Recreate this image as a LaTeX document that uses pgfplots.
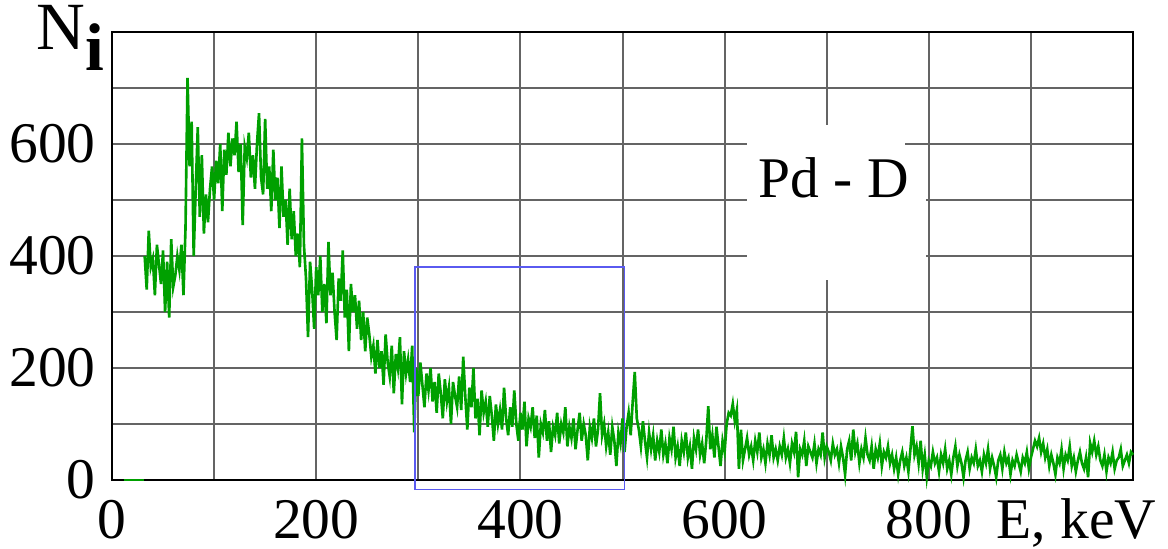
\documentclass[border=0pt]{standalone}
\usepackage{pgfplots}
\pgfplotsset{compat=1.18}
\usepackage{fontspec}
\setmainfont{Liberation Serif}
\definecolor{pdgreen}{RGB}{0,160,0}
\definecolor{gridgray}{RGB}{100,100,100}
\definecolor{boxblue}{RGB}{90,90,240}
\begin{document}
\begin{tikzpicture}[x=1pt,y=1pt]
\useasboundingbox (-44.8pt,-27.2pt) rectangle (422.4pt,192pt);
\begin{axis}[
  at={(0,0)}, anchor=south west,
  scale only axis, width=408.4pt, height=179.2pt,
  xmin=0, xmax=1000, ymin=0, ymax=800,
  xtick={0,200,400,600,800}, minor xtick={100,300,500,700,900},
  ytick={0,200,400,600}, minor ytick={100,300,500,700},
  grid=both,
  major grid style={color=gridgray, line width=0.8pt},
  minor grid style={color=gridgray, line width=0.8pt},
  major tick length=0pt, minor tick length=0pt,
  axis line style={black, line width=0.9pt},
  tick label style={font=\fontsize{23}{27}\selectfont},
  x tick label style={yshift=-4.5pt},
  y tick label style={xshift=-3pt},
  /pgf/number format/assume math mode=true,
  clip=false,
]
\fill[white] (axis cs:622,357) rectangle (axis cs:777,634);
\fill[white] (axis cs:622,357) rectangle (axis cs:797,570);
\addplot[color=pdgreen, line width=0.9pt] coordinates {(12,0) (31,0)};
\addplot[color=pdgreen, line width=1.05pt] table {
x y
32 400
34 340
36 445
38 380
40 395
42 330
44 420
46 385
48 350
50 410
52 300
54 390
56 290
58 430
60 345
62 365
64 400
66 375
68 420
70 330
72 450
74 718
76 560
78 640
80 400
82 520
84 630
86 470
88 580
90 440
92 510
94 460
96 520
98 560
100 500
102 570
104 530
106 600
108 480
110 590
112 545
114 620
116 560
118 610
120 580
122 640
124 550
126 600
128 455
130 595
132 575
134 620
136 540
138 580
140 520
142 600
144 655
146 540
148 510
150 645
152 520
154 560
156 480
158 590
160 500
162 540
164 450
166 560
168 470
170 500
172 420
174 520
176 430
178 480
180 400
182 440
184 380
186 610
188 420
190 360
192 255
194 390
196 340
198 270
200 380
202 330
204 400
206 300
208 350
210 280
212 425
214 330
216 370
218 300
220 250
222 360
224 320
226 410
228 290
230 340
232 230
234 350
236 300
238 330
240 270
242 320
244 250
246 300
248 230
250 290
252 260
254 220
256 240
258 190
260 250
262 200
264 230
266 170
268 260
270 210
272 185
274 240
276 155
278 225
280 200
282 255
284 135
286 230
288 190
290 215
292 175
294 240
296 85
298 200
300 150
302 210
304 170
306 130
308 190
310 160
312 200
314 140
316 175
318 120
320 190
322 155
324 110
326 180
328 140
330 165
332 100
334 175
336 150
338 130
340 185
342 125
344 220
346 150
348 90
350 165
352 130
354 200
356 110
358 145
360 80
362 160
364 120
366 140
368 95
370 150
372 115
374 70
376 135
378 100
380 125
382 90
384 165
386 110
388 80
390 130
392 95
394 160
396 100
398 70
400 120
402 90
404 140
406 60
408 110
410 95
412 130
414 75
416 115
418 40
420 100
422 85
424 125
426 70
428 105
430 50
432 95
434 80
436 120
438 65
440 100
442 85
444 130
446 60
448 95
450 75
452 110
454 55
456 90
458 120
460 70
462 100
464 80
466 35
468 95
470 75
472 110
474 60
476 90
478 155
480 80
482 100
484 60
486 85
488 45
490 95
492 70
494 25
496 85
498 65
500 110
502 50
504 95
506 120
508 80
510 140
512 193
514 110
516 90
518 60
520 105
522 70
524 40
526 85
528 55
530 80
532 35
534 70
536 50
538 90
540 45
542 65
544 30
546 75
548 55
550 95
552 40
554 60
556 25
558 70
560 50
562 85
564 40
566 60
568 20
570 75
572 55
574 90
576 45
578 65
580 30
582 70
584 132
586 55
588 80
590 40
592 95
594 60
596 25
598 70
600 50
602 100
604 120
606 115
608 136
610 105
612 125
614 20
616 90
618 35
620 55
622 75
624 45
626 60
628 35
630 70
632 50
634 85
636 40
638 55
640 30
642 65
644 45
646 80
648 40
650 55
652 35
654 60
656 45
658 75
660 40
662 55
664 30
666 65
668 50
670 86
672 5
674 55
676 45
678 70
680 25
682 60
684 50
686 40
688 65
690 30
692 55
694 45
696 85
698 40
700 60
702 50
704 35
706 65
708 45
710 55
712 30
714 60
716 40
718 10
720 55
722 70
724 35
726 90
728 50
730 65
732 30
734 55
736 40
738 75
740 45
742 35
744 60
746 20
748 55
750 40
752 65
754 25
756 50
758 40
760 60
762 30
764 45
766 20
768 40
770 10
772 35
774 50
776 25
778 40
780 15
782 55
784 96
786 45
788 60
790 30
792 70
794 20
796 45
798 5
800 35
802 25
804 50
806 30
808 40
810 15
812 45
814 30
816 55
818 20
820 35
822 10
824 40
826 60
828 25
830 45
832 30
834 5
836 35
838 50
840 20
842 40
844 30
846 55
848 25
850 35
852 15
854 45
856 30
858 55
860 20
862 40
864 25
866 5
868 35
870 45
872 20
874 50
876 30
878 40
880 10
882 35
884 25
886 45
888 30
890 15
892 40
894 30
896 50
898 20
900 40
902 55
904 70
906 60
908 75
910 50
912 65
914 40
916 55
918 25
920 45
922 30
924 10
926 40
928 30
930 55
932 20
934 45
936 35
938 60
940 25
942 40
944 15
946 35
948 50
950 30
952 20
954 40
956 5
958 66
960 50
962 70
964 45
966 60
968 35
970 25
972 45
974 15
976 40
978 30
980 50
982 20
984 35
986 40
988 55
990 25
992 35
994 45
996 30
998 50
1000 45
};
\draw[boxblue, line width=0.6pt] (axis cs:297,-17) rectangle (axis cs:502,380);
\node[anchor=base, font=\fontsize{23}{27}\selectfont, inner sep=0pt] at (axis cs:707,505) {Pd - D};
\node[anchor=base west, font=\fontsize{27}{31}\selectfont, inner sep=0pt] at (axis cs:-74,768) {N\raisebox{-0.3em}{\textbf{i}}};
\node[anchor=base west, font=\fontsize{23}{27}\selectfont, inner sep=0pt] at (axis cs:866,-105) {E, keV};
\end{axis}
\end{tikzpicture}
\end{document}
